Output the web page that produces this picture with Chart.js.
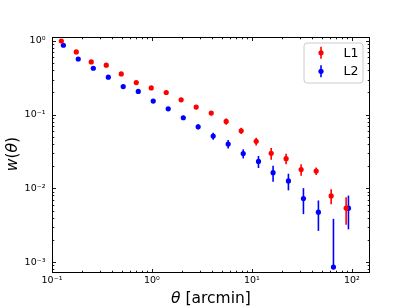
<!DOCTYPE html>
<html><head><meta charset="utf-8">
<script src="https://cdn.jsdelivr.net/npm/chart.js@4/dist/chart.umd.min.js"></script>
<style>html,body{margin:0;padding:0;background:#fff;overflow:hidden;}</style>
</head><body>
<canvas id="c" width="411" height="308" style="display:block;width:411px;height:308px"></canvas>
<script>
// ---- data ----
const seriesLabels = ['L1', 'L2'];
const seriesColors = ['#ff0000', '#0000ff'];
const thetaL1 = [0.124, 0.175, 0.247, 0.349, 0.493, 0.697, 0.984, 1.39, 1.96, 2.77, 3.92, 5.53, 7.82, 11.04, 15.6, 22.0, 31.1, 44.0, 62.1, 87.7];
const wL1 = [1.0, 0.71, 0.52, 0.469, 0.357, 0.273, 0.231, 0.200, 0.159, 0.127, 0.105, 0.081, 0.0605, 0.0435, 0.0299, 0.0253, 0.0180, 0.0172, 0.0079, 0.0054];
const errL1 = [0.04, 0.025, 0.018, 0.016, 0.012, 0.010, 0.009, 0.008, 0.007, 0.007, 0.0067, 0.0079, 0.0059, 0.0053, 0.0054, 0.0041, 0.0032, 0.0020, 0.0018, 0.0022];
const thetaL2 = [0.130, 0.183, 0.259, 0.366, 0.516, 0.730, 1.03, 1.455, 2.06, 2.90, 4.10, 5.79, 8.19, 11.64, 16.3, 23.2, 32.8, 46.3, 65.5, 92.5];
const wL2 = [0.875, 0.570, 0.427, 0.323, 0.241, 0.207, 0.153, 0.120, 0.0908, 0.0686, 0.0513, 0.0400, 0.0297, 0.0232, 0.0163, 0.0126, 0.00727, 0.00475, 0.000855, 0.00538];
const errL2 = [0.035, 0.022, 0.016, 0.012, 0.010, 0.009, 0.008, 0.0065, 0.0058, 0.0056, 0.0055, 0.0053, 0.0042, 0.0043, 0.0040, 0.0032, 0.0028, 0.0021, 0.0030, 0.0026];
const xTickValues = [0.1, 1, 10, 100];
const xTickLabels = ['10⁻¹', '10⁰', '10¹', '10²'];
const yTickValues = [0.001, 0.01, 0.1, 1];
const yTickLabels = ['10⁻³', '10⁻²', '10⁻¹', '10⁰'];
const xTitle = 'θ [arcmin]';
const yTitle = 'w(θ)';
const italicChars = 'wθ';
const xRange = [0.1, 152];
const yRange = [7.1e-4, 1.133];

const FONT = "'DejaVu Sans', sans-serif";

function mkData(xs, ys) { return xs.map((x, i) => ({x: x, y: ys[i]})); }

const errorBars = {
  id: 'errorBars',
  beforeDatasetsDraw(chart) {
    const ctx = chart.ctx, xs = chart.scales.x, ys = chart.scales.y, a = chart.chartArea;
    ctx.save();
    ctx.beginPath(); ctx.rect(a.left, a.top, a.right - a.left, a.bottom - a.top); ctx.clip();
    chart.data.datasets.forEach(ds => {
      ctx.strokeStyle = ds.borderColor; ctx.lineWidth = 1.6;
      ds.data.forEach((p, i) => {
        const e = ds.errors[i];
        const px = xs.getPixelForValue(p.x);
        const yHi = ys.getPixelForValue(p.y + e);
        const lo = p.y - e;
        const yLo = lo > 0 ? ys.getPixelForValue(lo) : ys.getPixelForValue(p.y);
        ctx.beginPath(); ctx.moveTo(px, yLo); ctx.lineTo(px, yHi); ctx.stroke();
      });
    });
    ctx.restore();
  }
};

function minorValues(min, max) {
  const out = [];
  for (let e = -5; e <= 3; e++) {
    for (let m = 1; m <= 9; m++) {
      const v = m * Math.pow(10, e);
      if (v >= min * 0.9999 && v <= max * 1.0001) out.push({v: v, major: m === 1});
    }
  }
  return out;
}

const frameTicks = {
  id: 'frameTicks',
  afterDatasetsDraw(chart) {
    const ctx = chart.ctx, xs = chart.scales.x, ys = chart.scales.y, a = chart.chartArea;
    ctx.save();
    ctx.strokeStyle = '#000'; ctx.lineWidth = 0.9;
    minorValues(xRange[0], xRange[1]).forEach(t => {
      const px = Math.round(xs.getPixelForValue(t.v)) + 0.5;
      const L = t.major ? 4 : 2.3;
      ctx.beginPath();
      ctx.moveTo(px, a.bottom); ctx.lineTo(px, a.bottom - L);
      ctx.moveTo(px, a.top); ctx.lineTo(px, a.top + L);
      ctx.stroke();
    });
    minorValues(yRange[0], yRange[1]).forEach(t => {
      const py = Math.round(ys.getPixelForValue(t.v)) + 0.5;
      const L = t.major ? 4 : 2.3;
      ctx.beginPath();
      ctx.moveTo(a.left, py); ctx.lineTo(a.left + L, py);
      ctx.moveTo(a.right, py); ctx.lineTo(a.right - L, py);
      ctx.stroke();
    });
    ctx.lineWidth = 1;
    ctx.strokeRect(a.left + 0.5, a.top + 0.5, a.right - a.left - 1, a.bottom - a.top - 1);
    ctx.restore();
  }
};

function drawMixed(ctx, text, size, cx, cy) {
  const parts = [];
  for (const ch of text) {
    const it = italicChars.includes(ch);
    if (parts.length && parts[parts.length - 1].it === it) parts[parts.length - 1].s += ch;
    else parts.push({s: ch, it: it});
  }
  let total = 0;
  parts.forEach(p => { ctx.font = (p.it ? 'italic ' : '') + size + 'px ' + FONT; p.w = ctx.measureText(p.s).width; total += p.w; });
  let x = cx - total / 2;
  ctx.textAlign = 'left'; ctx.textBaseline = 'alphabetic';
  parts.forEach(p => { ctx.font = (p.it ? 'italic ' : '') + size + 'px ' + FONT; ctx.fillText(p.s, x, cy); x += p.w; });
}

const titlesLegend = {
  id: 'titlesLegend',
  afterDraw(chart) {
    const ctx = chart.ctx, a = chart.chartArea;
    ctx.save();
    ctx.fillStyle = '#000';
    drawMixed(ctx, xTitle, 15.5, (a.left + a.right) / 2, 302.5);
    ctx.save();
    ctx.translate(16.5, (a.top + a.bottom) / 2 - 1);
    ctx.rotate(-Math.PI / 2);
    drawMixed(ctx, yTitle, 15.5, 0, 0);
    ctx.restore();
    // legend
    const bx = 304, by = 43, bw = 59, bh = 40, r = 3;
    ctx.beginPath();
    ctx.moveTo(bx + r, by); ctx.lineTo(bx + bw - r, by); ctx.arcTo(bx + bw, by, bx + bw, by + r, r);
    ctx.lineTo(bx + bw, by + bh - r); ctx.arcTo(bx + bw, by + bh, bx + bw - r, by + bh, r);
    ctx.lineTo(bx + r, by + bh); ctx.arcTo(bx, by + bh, bx, by + bh - r, r);
    ctx.lineTo(bx, by + r); ctx.arcTo(bx, by, bx + r, by, r); ctx.closePath();
    ctx.fillStyle = 'rgba(255,255,255,0.8)'; ctx.fill();
    ctx.strokeStyle = '#cccccc'; ctx.lineWidth = 1; ctx.stroke();
    const rowsY = [52.8, 71.3];
    chart.data.datasets.forEach((ds, i) => {
      const y = rowsY[i], hx = 321;
      ctx.strokeStyle = ds.borderColor; ctx.lineWidth = 1.6;
      ctx.beginPath(); ctx.moveTo(hx, y - 6); ctx.lineTo(hx, y + 6); ctx.stroke();
      ctx.fillStyle = ds.borderColor;
      ctx.beginPath(); ctx.arc(hx, y, 2.6, 0, Math.PI * 2); ctx.fill();
      ctx.fillStyle = '#000'; ctx.font = '12.5px ' + FONT;
      ctx.textAlign = 'left'; ctx.textBaseline = 'middle';
      ctx.fillText(ds.label, 343.5, y + 0.5);
    });
    ctx.restore();
  }
};

const datasets = [
  {label: seriesLabels[0], data: mkData(thetaL1, wL1), errors: errL1},
  {label: seriesLabels[1], data: mkData(thetaL2, wL2), errors: errL2}
].map((d, i) => Object.assign(d, {
  borderColor: seriesColors[i], backgroundColor: seriesColors[i],
  pointBackgroundColor: seriesColors[i], pointBorderWidth: 0, pointRadius: 2.6,
  showLine: false
}));

new Chart(document.getElementById('c'), {
  type: 'scatter',
  data: {datasets: datasets},
  options: {
    responsive: false, animation: false, devicePixelRatio: 1,
    layout: {padding: {top: 37, right: 41, left: 0, bottom: 0}},
    plugins: {legend: {display: false}, tooltip: {enabled: false}},
    scales: {
      x: {
        type: 'logarithmic', min: xRange[0], max: xRange[1], position: 'bottom',
        grid: {display: false, drawTicks: false}, border: {display: false},
        afterBuildTicks: s => { s.ticks = xTickValues.map(v => ({value: v})); },
        afterFit: s => { s.height = 35; },
        ticks: {autoSkip: false, maxRotation: 0, minRotation: 0, padding: 2, color: '#000',
          font: {family: FONT, size: 9.5}, callback: (v, i) => xTickLabels[i]}
      },
      y: {
        type: 'logarithmic', min: yRange[0], max: yRange[1], position: 'left',
        grid: {display: false, drawTicks: false}, border: {display: false},
        afterBuildTicks: s => { s.ticks = yTickValues.map(v => ({value: v})); },
        afterFit: s => { s.width = 52; },
        ticks: {autoSkip: false, padding: 6.5, color: '#000',
          font: {family: FONT, size: 9.5}, callback: (v, i) => yTickLabels[i]}
      }
    }
  },
  plugins: [errorBars, frameTicks, titlesLegend]
});
</script>
</body></html>
